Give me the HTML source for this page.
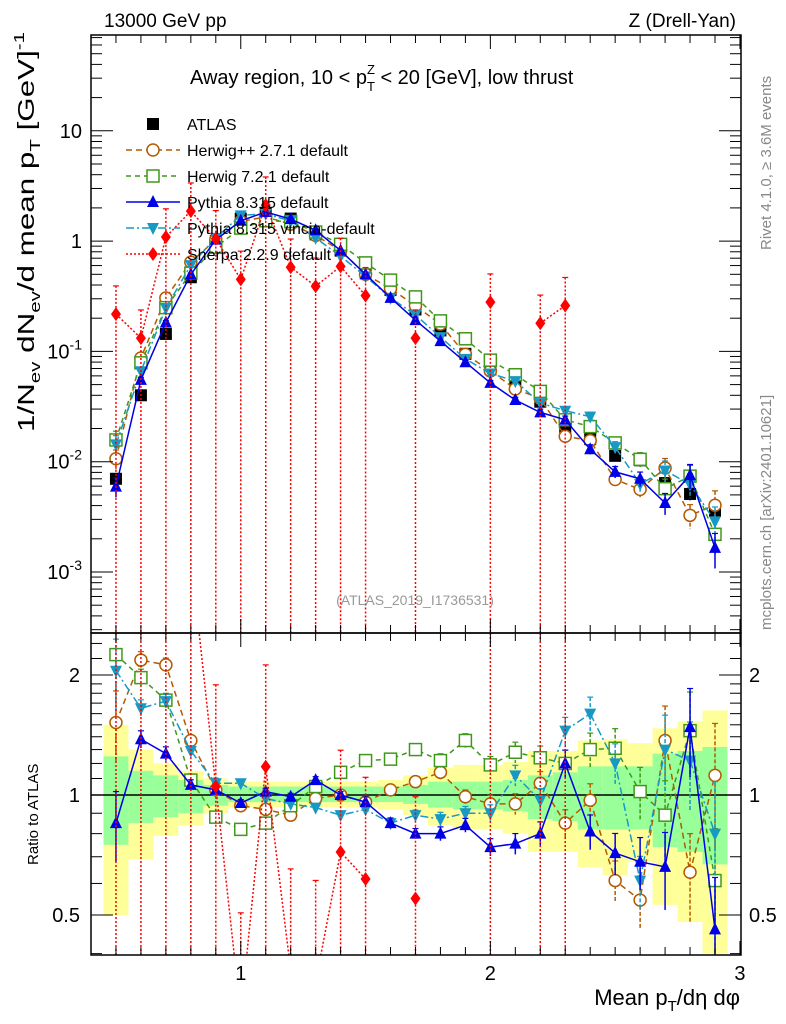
<!DOCTYPE html>
<html><head><meta charset="utf-8">
<style>
html,body{margin:0;padding:0;background:#fff;overflow:hidden;width:786px;height:1024px;}
svg{display:block;font-family:"Liberation Sans",Arial,sans-serif;}
</style></head>
<body>
<svg id="chart" width="786" height="1024" viewBox="0 0 786 1024" xmlns="http://www.w3.org/2000/svg">
<defs>
<clipPath id="clipMain"><rect x="91" y="35" width="650" height="598"/></clipPath>
<clipPath id="clipRatio"><rect x="91" y="633" width="650" height="322"/></clipPath>
</defs>
<rect x="0" y="0" width="786" height="1024" fill="#fff"/>
<g id="bands" clip-path="url(#clipRatio)"></g>
<line x1="91" y1="795" x2="741" y2="795" stroke="#000" stroke-width="1.5"/>
<g id="mainSeries" clip-path="url(#clipMain)"></g>
<g id="ratioSeries" clip-path="url(#clipRatio)"></g>
<g id="axes"></g>
<rect x="91" y="35" width="650" height="598" fill="none" stroke="#000" stroke-width="1.5"/>
<rect x="91" y="633" width="650" height="322" fill="none" stroke="#000" stroke-width="1.5"/>

<text x="104" y="27" font-size="19">13000 GeV pp</text>
<text x="736" y="27" font-size="19" text-anchor="end">Z (Drell-Yan)</text>
<text x="190" y="84" font-size="20">Away region, 10 &lt; p<tspan font-size="13" dy="7">T</tspan><tspan font-size="13" dx="-8" dy="-17">Z</tspan><tspan dy="10"> &lt; 20 [GeV], low thrust</tspan></text>
<text transform="translate(34,432) rotate(-90)" font-size="23" textLength="400" lengthAdjust="spacingAndGlyphs">1/N<tspan font-size="15" dy="6">ev</tspan><tspan dy="-6"> dN</tspan><tspan font-size="15" dy="6">ev</tspan><tspan dy="-6">/d mean p</tspan><tspan font-size="15" dy="6">T</tspan><tspan dy="-6">  [GeV]</tspan><tspan font-size="15" dy="-10">-1</tspan></text>
<text transform="translate(38,865) rotate(-90)" font-size="15">Ratio to ATLAS</text>
<text x="740" y="1005" font-size="22" text-anchor="end">Mean p<tspan font-size="15" dy="6">T</tspan><tspan dy="-6">/dη dφ</tspan></text>
<text transform="translate(771,250) rotate(-90)" font-size="15" fill="#888">Rivet 4.1.0, ≥ 3.6M events</text>
<text transform="translate(771,630) rotate(-90)" font-size="15" fill="#888">mcplots.cern.ch [arXiv:2401.10621]</text>
<text x="415" y="605" font-size="14" fill="#999" text-anchor="middle">(ATLAS_2019_I1736531)</text>
<g id="legend"></g>
</svg>
<script>
// ---------- data ----------
const bins = [0.5,0.6,0.7,0.8,0.9,1.0,1.1,1.2,1.3,1.4,1.5,1.6,1.7,1.8,1.9,2.0,2.1,2.2,2.3,2.4,2.5,2.6,2.7,2.8,2.9];
const atlasValues = [0.0070,0.040,0.144,0.47,1.0,1.6,1.8,1.6,1.15,0.82,0.52,0.36,0.24,0.155,0.095,0.070,0.048,0.035,0.020,0.016,0.0113,0.0103,0.0064,0.0051,0.0036];
const statUp = [1.25,1.15,1.12,1.09,1.06,1.05,1.05,1.05,1.05,1.05,1.05,1.05,1.06,1.08,1.08,1.08,1.09,1.12,1.14,1.18,1.18,1.18,1.27,1.29,1.32];
const statDn = [0.75,0.85,0.88,0.90,0.94,0.96,0.96,0.96,0.96,0.96,0.96,0.96,0.95,0.93,0.92,0.92,0.91,0.87,0.86,0.82,0.82,0.82,0.74,0.72,0.67];
const totUp = [1.50,1.30,1.20,1.15,1.10,1.08,1.08,1.08,1.08,1.08,1.08,1.09,1.12,1.17,1.19,1.19,1.21,1.29,1.29,1.37,1.38,1.35,1.47,1.53,1.63];
const totDn = [0.50,0.69,0.79,0.84,0.90,0.93,0.93,0.93,0.93,0.93,0.93,0.92,0.89,0.84,0.82,0.82,0.80,0.72,0.72,0.66,0.63,0.68,0.53,0.48,0.40];
const herwigppRatio = [1.52,2.18,2.12,1.37,1.03,0.94,0.92,0.89,0.98,1.00,0.96,1.03,1.08,1.14,0.99,0.95,0.95,1.07,0.85,0.97,0.61,0.545,1.37,0.64,1.12];
const herwig7Ratio = [2.25,1.97,1.73,1.09,0.88,0.82,0.85,0.94,1.05,1.14,1.22,1.23,1.30,1.22,1.37,1.19,1.28,1.24,1.20,1.30,1.31,1.02,0.89,1.45,0.61];
const pythiaRatio = [0.85,1.38,1.27,1.06,1.03,0.955,1.02,0.99,1.09,1.00,0.96,0.85,0.80,0.80,0.84,0.74,0.755,0.80,1.20,0.81,0.715,0.68,0.66,1.48,0.46];
const vinciaRatio = [2.05,1.65,1.72,1.29,1.07,1.07,0.98,0.95,0.93,0.89,0.92,0.85,0.89,0.87,0.90,0.90,1.12,0.97,1.45,1.60,1.20,0.61,1.30,1.22,0.80];
const mcRelErr = [0.20,0.05,0.04,0.03,0.03,0.02,0.02,0.02,0.02,0.02,0.03,0.03,0.03,0.04,0.04,0.05,0.06,0.07,0.08,0.10,0.12,0.15,0.22,0.25,0.35];
const sherpaValues = [0.218,0.132,1.09,1.87,1.05,0.45,2.12,0.58,0.39,0.59,0.32,null,0.132,null,null,0.28,null,0.18,0.26,null,null,null,null,null,null];
const yMainTicks = [10,1,0.1,0.01,0.001];
const yMainLabels = ["10","1","10|-1","10|-2","10|-3"];
const xTicks = [1,2,3];
const xTickLabels = ["1","2","3"];
const ratioTicks = [0.5,1,2];
const ratioTickLabels = ["0.5","1","2"];

// ---------- axes ----------
const X = v => 91 + (v - 0.4) * 249.6;
const YM = v => 572 - (Math.log10(v) + 3) * 110.3;
const YR = r => 795 - Math.log2(r) * 120;
const NS = "http://www.w3.org/2000/svg";
function mk(tag, attrs, parent){ const e=document.createElementNS(NS,tag); for(const k in attrs) e.setAttribute(k,attrs[k]); parent.appendChild(e); return e; }

const axes = document.getElementById('axes');
for(let i=4;i<=30;i++){
  const v=i/10, x=X(v), major=(i%10===0);
  const L = major?14:8;
  [[35,1],[633,-1],[633,1],[955,-1]].forEach(([y0,d])=>{
    mk('line',{x1:x,y1:y0,x2:x,y2:y0+d*L,stroke:'#000','stroke-width':1},axes);
  });
}
xTicks.forEach((v,i)=>{
  const t=mk('text',{x:X(v),y:980,'font-size':20,'text-anchor':'middle'},axes);
  t.textContent=xTickLabels[i];
  
  
});
for(let d=-4; d<=1; d++){
  for(let m=1;m<=9;m++){
    const v=m*Math.pow(10,d), y=YM(v);
    if(y<35||y>633) continue;
    const L=m===1?22:11;
    mk('line',{x1:91,y1:y,x2:91+L,y2:y,stroke:'#000','stroke-width':1},axes);
    mk('line',{x1:741,y1:y,x2:741-L,y2:y,stroke:'#000','stroke-width':1},axes);
  }
}
yMainTicks.forEach((v,i)=>{
  const parts=yMainLabels[i].split('|');
  const t=mk('text',{x:82,y:YM(v)+7,'font-size':20,'text-anchor':'end'},axes);
  t.textContent=parts[0];
  if(parts.length>1){
    const s=mk('tspan',{'font-size':14,dy:-9},t); s.textContent=parts[1];
  }
  
  
});
[0.4,0.5,0.6,0.7,0.8,0.9,1,1.1,1.2,1.3,1.4,1.5,1.6,1.7,1.8,1.9,2,2.2,2.4].forEach(v=>{
  const y=YR(v); if(y<633||y>955) return;
  const L=(v===0.5||v===1||v===2)?22:11;
  mk('line',{x1:91,y1:y,x2:91+L,y2:y,stroke:'#000','stroke-width':1},axes);
  mk('line',{x1:741,y1:y,x2:741-L,y2:y,stroke:'#000','stroke-width':1},axes);
});
ratioTicks.forEach((v,i)=>{
  const t=mk('text',{x:80,y:YR(v)+7,'font-size':20,'text-anchor':'end'},axes);
  t.textContent=ratioTickLabels[i];
  
  
  const t2=mk('text',{x:749,y:YR(v)+7,'font-size':20},axes);
  t2.textContent=ratioTickLabels[i];
  
  
});

// ---------- bands ----------
const bands=document.getElementById('bands');
bins.forEach((b,i)=>{
  const x0=X(b-0.05), w=X(b+0.05)-x0;
  const r1=mk('rect',{x:x0,y:YR(totUp[i]),width:w,height:YR(totDn[i])-YR(totUp[i]),fill:'#ffff99'},bands);
  
  
  const r2=mk('rect',{x:x0,y:YR(statUp[i]),width:w,height:YR(statDn[i])-YR(statUp[i]),fill:'#99ff99'},bands);
  
  
});

// ---------- markers ----------
function marker(type,x,y,color,g,s){
  s=s||6;
  if(type==='square') return mk('rect',{x:x-s,y:y-s,width:2*s,height:2*s,fill:color},g);
  if(type==='osquare') return mk('rect',{x:x-s,y:y-s,width:2*s,height:2*s,fill:'#fff',stroke:color,'stroke-width':1.5},g);
  if(type==='ocircle') return mk('circle',{cx:x,cy:y,r:s,fill:'#fff',stroke:color,'stroke-width':1.5},g);
  if(type==='tri') return mk('polygon',{points:`${x},${y-s-1} ${x-s},${y+s-1} ${x+s},${y+s-1}`,fill:color},g);
  if(type==='dtri') return mk('polygon',{points:`${x},${y+s+1} ${x-s},${y-s+1} ${x+s},${y-s+1}`,fill:color},g);
  if(type==='diamond') return mk('polygon',{points:`${x},${y-s-1} ${x-s+1},${y} ${x},${y+s+1} ${x+s-1},${y}`,fill:color},g);
}

const mainG=document.getElementById('mainSeries');
const ratioG=document.getElementById('ratioSeries');

const series=[
  {name:'herwigpp',ratio:herwigppRatio,color:'#b35a00',m:'ocircle',dash:'6,4'},
  {name:'herwig7',ratio:herwig7Ratio,color:'#40981a',m:'osquare',dash:'5,4'},
  {name:'vincia',ratio:vinciaRatio,color:'#1799c4',m:'dtri',dash:'8,3,2,3'},
  {name:'pythia',ratio:pythiaRatio,color:'#0000e6',m:'tri',dash:''},
];

function drawSeries(vals, errUp, errDn, color, m, dash, g, Yf, label, yMin, yMax){
  const sg=mk('g',{},g);
  
  
  const cl = y => Math.max(yMin, Math.min(yMax, y));
  let pts=[];
  vals.forEach((v,i)=>{ if(v!=null && v>0) pts.push([X(bins[i]),Yf(v),i]); });
  let d='', prev=-2;
  pts.forEach(p=>{ d += (p[2]===prev+1 && d? 'L':'M')+p[0].toFixed(1)+','+p[1].toFixed(1); prev=p[2]; });
  const path=mk('path',{d:d,fill:'none',stroke:color,'stroke-width':1.5},sg);
  if(dash) path.setAttribute('stroke-dasharray',dash);
  pts.forEach(p=>{
    const i=p[2], v=vals[i];
    const up=v*(1+errUp[i]);
    const y1=cl(Yf(up)), y2=errDn[i]>=1?yMax:cl(Yf(v*(1-errDn[i])));
    const e=mk('line',{x1:p[0],y1:y1,x2:p[0],y2:y2,stroke:color,'stroke-width':1.5},sg);
    if(dash) e.setAttribute('stroke-dasharray',dash==='2,2'?'2,2':'4,2');
    mk('line',{x1:p[0]-3,y1:y1,x2:p[0]+3,y2:y1,stroke:color,'stroke-width':1.2},sg);
    const mm=marker(m,p[0],p[1],color,sg);
    
    
  });
}

const atlasErr = mcRelErr.map(e=>e*0.5);
drawSeries(atlasValues, atlasErr, atlasErr, '#000', 'square', null, mainG, YM, 'atlas-data', 35, 633);
mainG.lastChild.querySelector('path').setAttribute('stroke','none');

series.forEach(s=>{
  const mainVals=s.ratio.map((r,i)=>r*atlasValues[i]);
  drawSeries(mainVals, mcRelErr, mcRelErr, s.color, s.m, s.dash, mainG, YM, s.name+'-main', 35, 633);
  drawSeries(s.ratio, mcRelErr, mcRelErr, s.color, s.m, s.dash, ratioG, YR, s.name+'-ratio', 633, 955);
});
const sherpaUp = sherpaValues.map(()=>0.8);
const sherpaDn = sherpaValues.map(()=>1);
drawSeries(sherpaValues, sherpaUp, sherpaDn, '#ff0000', 'diamond', '2,2', mainG, YM, 'sherpa-main', 35, 633);
const sherpaRatio = sherpaValues.map((v,i)=>v==null?null:v/atlasValues[i]);
drawSeries(sherpaRatio, sherpaUp, sherpaDn, '#ff0000', 'diamond', '2,2', ratioG, YR, 'sherpa-ratio', 633, 955);

// ---------- legend ----------
const leg=document.getElementById('legend');
const legendItems=[
  ['ATLAS','#000','square',null],
  ['Herwig++ 2.7.1 default','#b35a00','ocircle','6,4'],
  ['Herwig 7.2.1 default','#40981a','osquare','5,4'],
  ['Pythia 8.315 default','#0000e6','tri',''],
  ['Pythia 8.315 vincia-default','#1799c4','dtri','8,3,2,3'],
  ['Sherpa 2.2.9 default','#ff0000','diamond','2,2'],
];
legendItems.forEach((it,i)=>{
  const y=124+i*26;
  const g=mk('g',{},leg);
  
  
  if(it[3]!==null){
    const l=mk('line',{x1:126,y1:y,x2:180,y2:y,stroke:it[1],'stroke-width':1.5},g);
    if(it[3]) l.setAttribute('stroke-dasharray',it[3]);
  }
  marker(it[2],153,y,it[1],g);
  const t=mk('text',{x:187,y:y+6,'font-size':16},g);
  t.textContent=it[0];
});
</script>
</body></html>
